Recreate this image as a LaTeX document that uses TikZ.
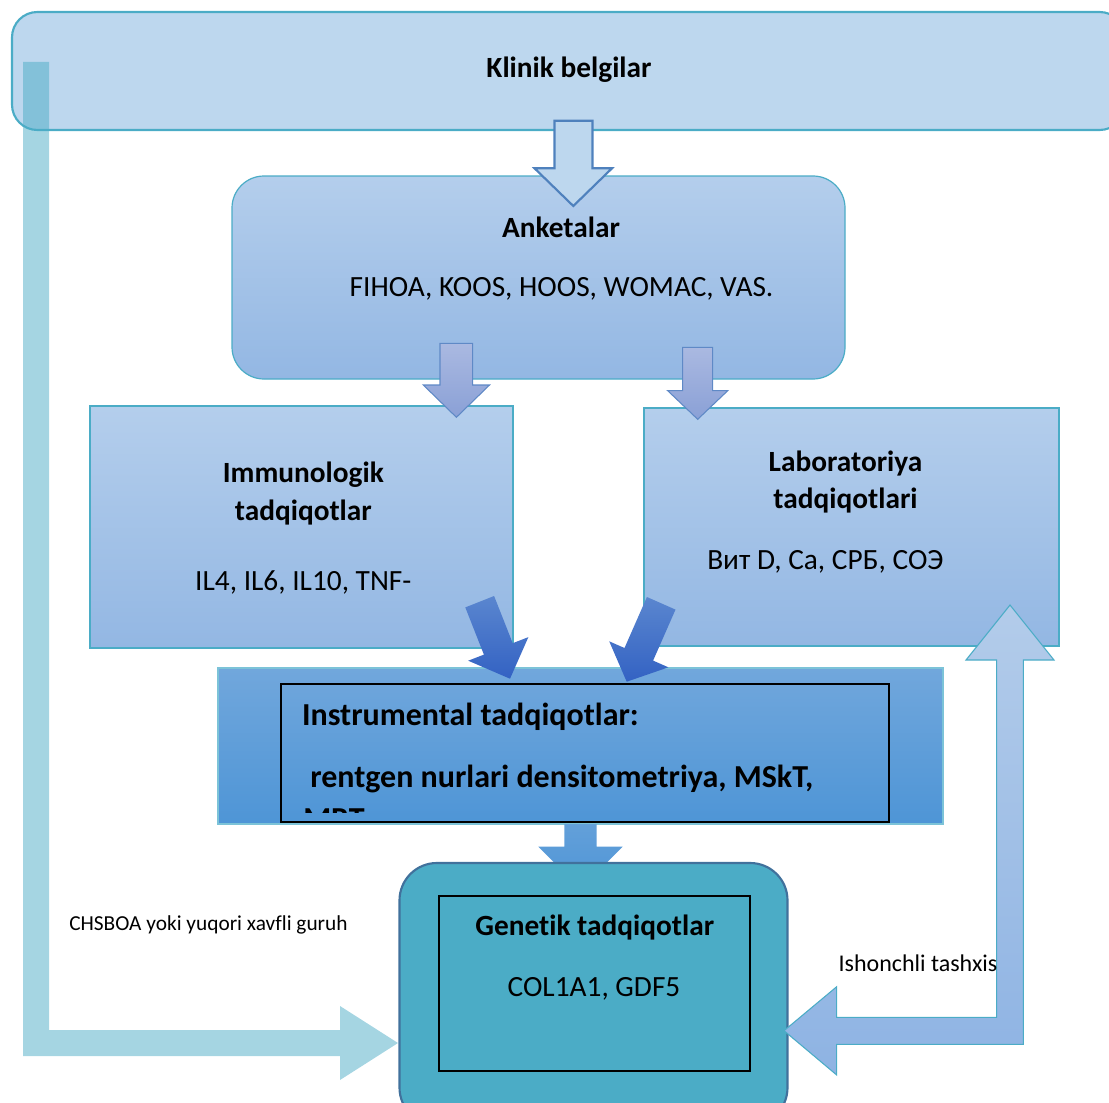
\documentclass[tikz,border=0pt]{standalone}
\usepackage{fontspec}
\setmainfont{Carlito}[Ligatures=NoCommon]
\definecolor{teal}{HTML}{4BACC6}
\definecolor{topfill}{HTML}{BDD7EE}
\definecolor{arrowline}{HTML}{4F81BD}
\definecolor{boxtop}{HTML}{B4CEEC}
\definecolor{boxbot}{HTML}{93B7E3}
\definecolor{sarrtop}{HTML}{AAB9E1}
\definecolor{sarrbot}{HTML}{8AA0D6}
\definecolor{sarrline}{HTML}{5F89C6}
\definecolor{darrtop}{HTML}{5A86CF}
\definecolor{darrbot}{HTML}{3362C3}
\definecolor{insttop}{HTML}{71A7DC}
\definecolor{instbot}{HTML}{4E95D6}
\definecolor{instline}{HTML}{7CC3D8}
\definecolor{genfill}{HTML}{4BACC6}
\definecolor{genline}{HTML}{41719C}
\definecolor{dbltop}{HTML}{B3CCEA}
\definecolor{dblbot}{HTML}{8EB3E3}
\begin{document}
\begin{tikzpicture}[x=0.75pt,y=-0.75pt,
  txt/.style={font=\fontsize{22}{26}\selectfont, inner sep=0pt, anchor=base},
  txtb/.style={font=\fontsize{22}{26}\selectfont\bfseries, inner sep=0pt, anchor=base},
  insttxt/.style={font=\fontsize{24}{29}\selectfont\bfseries, inner sep=0pt, anchor=base west},
  lbl/.style={inner sep=0pt, anchor=base west},
  lightbox/.style={draw=teal, line width=0.9pt, top color=boxtop, bottom color=boxbot},
  smallarrow/.style={draw=sarrline, line width=0.8pt, top color=sarrtop, bottom color=sarrbot},
  diagarrow/.style={top color=darrtop, bottom color=darrbot},
  blackframe/.style={draw=black, line width=1.5pt}
]
\useasboundingbox (0,0) rectangle (1109,1102);
\clip (0,0) rectangle (1109,1102);

% Klinik belgilar
\draw[draw=teal, line width=1.6pt, fill=topfill, rounded corners=19pt] (12,12) rectangle (1125,130);
\node[txtb] (klinik) at (569,77.5) {Klinik belgilar};

% left bent arrow
\fill[teal, fill opacity=0.5] (23,62) -- (49,62) -- (49,1030) -- (340,1030) -- (340,1006) -- (398,1043) -- (340,1080) -- (340,1056) -- (23,1056) -- cycle;
\node[lbl, font=\fontsize{16}{19}\selectfont] (chsboa) at (69,930) {CHSBOA yoki yuqori xavfli guruh};

% Anketalar
\draw[lightbox, rounded corners=24pt] (232,176) rectangle (845,379);
\node[txtb] (anketa) at (561,237) {Anketalar};
\node[txt] (anketb) at (561.5,296) {FIHOA, KOOS, HOOS, WOMAC, VAS.};

% top arrow
\draw[draw=arrowline, line width=1.6pt, fill=topfill, line join=miter] (554.5,120.7) -- (592.5,120.7) -- (592.5,168.3) -- (612,168.3) -- (573.3,206) -- (534.5,168.3) -- (554.5,168.3) -- cycle;

% Immunologik
\draw[lightbox] (90,406) rectangle (513,648);
\node[txtb] (imma) at (303.3,482.7) {Immunologik};
\node[txtb] (immb) at (303.3,520.5) {tadqiqotlar};
\node[txt] (immc) at (303.3,590) {IL4, IL6, IL10, TNF-};

% Laboratoriya
\draw[lightbox] (644,408) rectangle (1059,646);
\node[txtb] (laba) at (845.5,471.7) {Laboratoriya};
\node[txtb] (labb) at (845.5,508.3) {tadqiqotlari};
\node[txt] (labc) at (825.3,569.3) {Вит D, Ca, СРБ, СОЭ};

% small arrows
\draw[smallarrow] (440,343.3) -- (472.7,343.3) -- (472.7,385) -- (489.5,385) -- (456.4,417.3) -- (423.3,385) -- (440,385) -- cycle;
\draw[smallarrow] (682.7,347.3) -- (712.7,347.3) -- (712.7,390.7) -- (727.7,390.7) -- (697.7,419.3) -- (667.7,390.7) -- (682.7,390.7) -- cycle;

% Instrumental
\draw[draw=instline, line width=0.8pt, top color=insttop, bottom color=instbot] (218,668) rectangle (943,824);
\draw[blackframe] (281,684) rectangle (889,822);
\node[insttxt] (insta) at (301.8,725) {Instrumental tadqiqotlar:};
\node[insttxt] (instb) at (310,787.3) {rentgen nurlari densitometriya, MSkT,};
\begin{scope}
\clip (281,684) rectangle (889,812.5);
\node[insttxt] (instc) at (303,829) {MRT};
\end{scope}

% diagonal arrows
\path[diagarrow] (465.3,607.4) -- (494.1,596.0) -- (512.7,643.2) -- (528.4,637.1) -- (510,678.7) -- (468.2,660.7) -- (483.9,654.6) -- cycle;
\path[diagarrow] (646.9,597.0) -- (675.5,609.6) -- (653.1,660.6) -- (668.4,667.3) -- (626.7,681.7) -- (609.2,641.3) -- (624.5,648.0) -- cycle;

% down arrow to Genetik
\path[top color=insttop!60!instbot, bottom color=instbot] (564.3,824) -- (596.7,824) -- (596.7,846.7) -- (622.7,846.7) -- (580.5,889) -- (538.3,846.7) -- (564.3,846.7) -- cycle;

% Genetik
\draw[draw=genline, line width=1.6pt, fill=genfill, rounded corners=28pt] (399.5,863) rectangle (787.5,1125);
\draw[blackframe] (439.3,896) rectangle (750,1070.7);
\node[txtb] (gena) at (594.7,935) {Genetik tadqiqotlar};
\node[txt] (genb) at (594,996) {COL1A1, GDF5};

% right double arrow
\draw[draw=teal, line width=0.8pt, top color=dbltop, bottom color=dblbot, line join=miter] (1010,605) -- (1054,660) -- (1023.3,660) -- (1023.3,1044.3) -- (836.7,1044.3) -- (836.7,1075) -- (784,1030.7) -- (836.7,986.7) -- (836.7,1017.3) -- (996.7,1017.3) -- (996.7,660) -- (966,660) -- cycle;
\node[lbl, font=\fontsize{18}{21}\selectfont] (ishon) at (838.3,971) {Ishonchli tashxis};
\end{tikzpicture}
\end{document}
